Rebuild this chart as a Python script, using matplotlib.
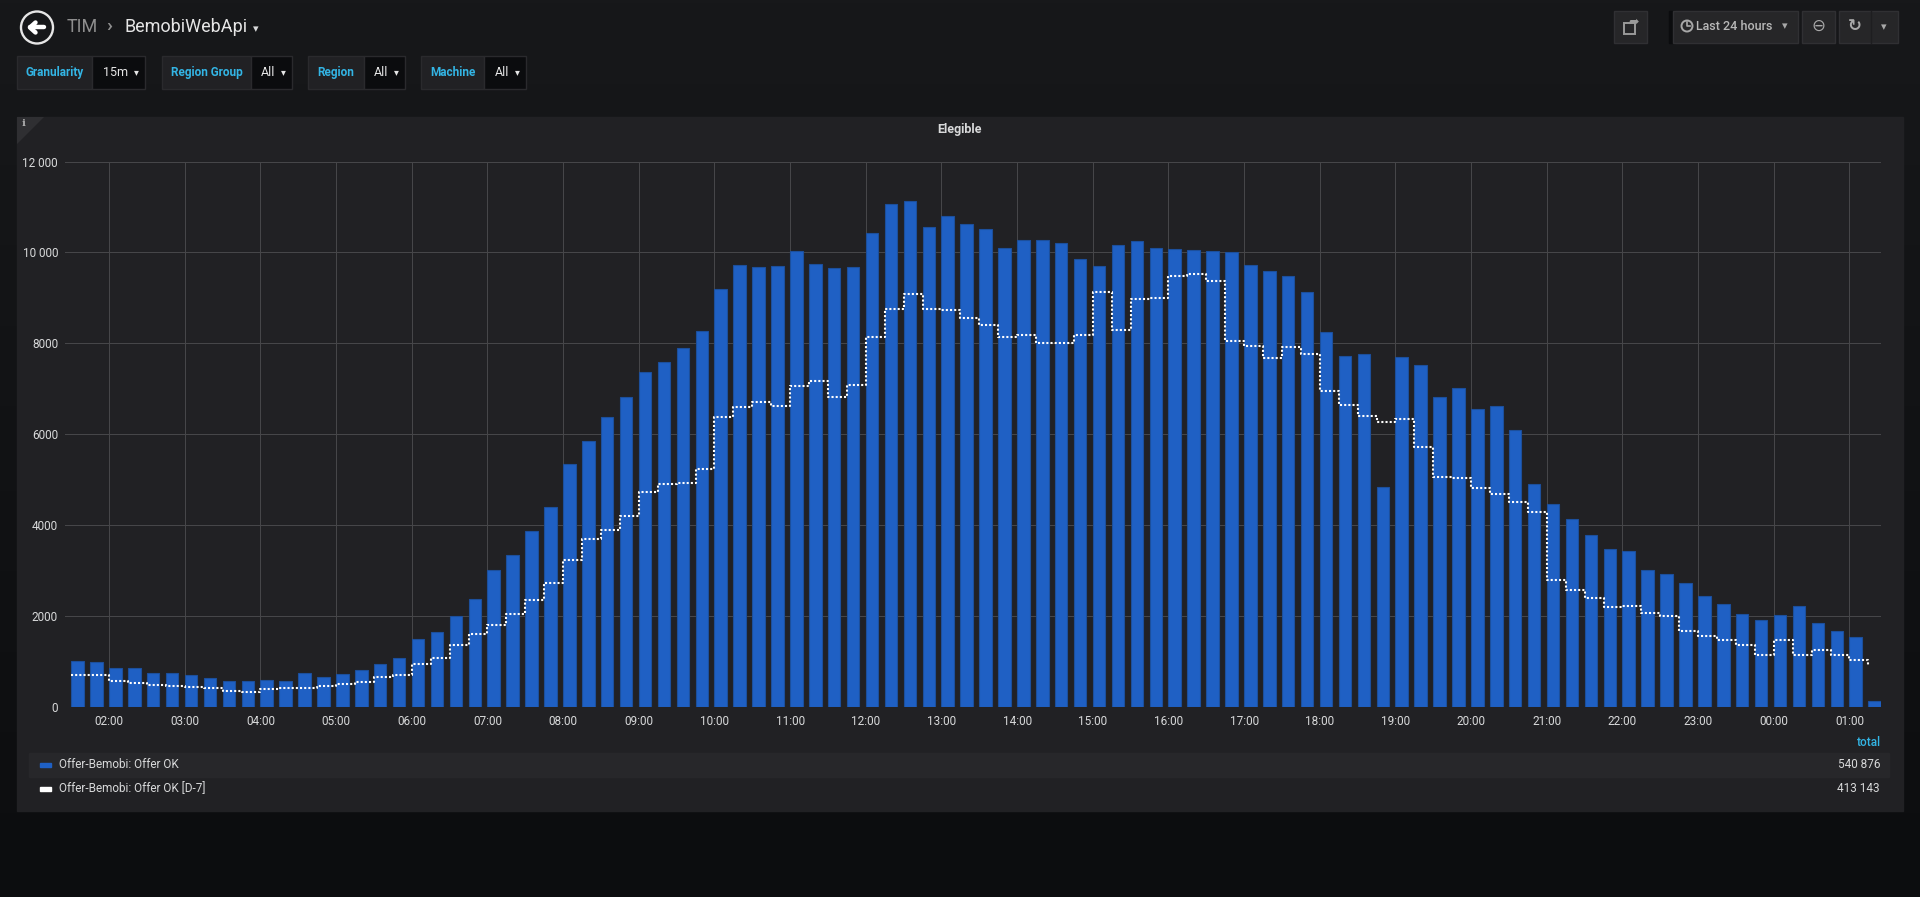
import matplotlib
matplotlib.use('Agg')
import matplotlib.pyplot as plt
import matplotlib.dates as mdates
from matplotlib.colors import LinearSegmentedColormap
from matplotlib.patches import Rectangle, Circle, Polygon
from matplotlib.ticker import FuncFormatter
import numpy as np
import pandas as pd

# 15 minute buckets, first one at 01:30, last one at 01:15 next day
offer_ok = [1000, 976, 848, 840, 744, 728, 688, 632, 552, 560, 592, 568,
            728, 648, 720, 800, 944, 1072, 1496, 1648, 2000, 2376, 3000, 3336,
            3872, 4400, 5344, 5848, 6384, 6816, 7360, 7584, 7896, 8264, 9192, 9712,
            9672, 9696, 10024, 9736, 9656, 9672, 10424, 11064, 11136, 10552, 10792, 10616,
            10512, 10096, 10264, 10264, 10200, 9848, 9696, 10168, 10248, 10096, 10072, 10048,
            10024, 10008, 9728, 9592, 9488, 9120, 8248, 7712, 7760, 4824, 7696, 7512,
            6816, 7024, 6544, 6624, 6080, 4896, 4456, 4128, 3776, 3472, 3424, 3008,
            2928, 2720, 2432, 2264, 2048, 1912, 2008, 2208, 1848, 1672, 1536, 128]

offer_ok_d7 = [688, 688, 560, 528, 480, 456, 440, 400, 352, 320, 376, 408,
               416, 456, 496, 536, 656, 704, 936, 1072, 1360, 1600, 1784, 2048,
               2352, 2728, 3216, 3680, 3880, 4200, 4720, 4904, 4928, 5232, 6368, 6592,
               6712, 6608, 7048, 7160, 6824, 7080, 8136, 8744, 9080, 8760, 8728, 8560,
               8392, 8136, 8192, 8008, 8008, 8176, 9136, 8296, 8976, 8992, 9480, 9528,
               9360, 8056, 7936, 7672, 7912, 7760, 6944, 6632, 6392, 6256, 6336, 5704,
               5064, 5040, 4808, 4680, 4512, 4280, 2792, 2576, 2392, 2192, 2216, 2056,
               1992, 1672, 1544, 1456, 1360, 1136, 1456, 1136, 1240, 1136, 1016, 912]

series_names = ["Offer-Bemobi: Offer OK", "Offer-Bemobi: Offer OK [D-7]"]
series_totals = ["540 876", "413 143"]

variables = [("Granularity", "15m"), ("Region Group", "All"), ("Region", "All"), ("Machine", "All")]

times = pd.date_range("2018-06-11 01:30", periods=len(offer_ok), freq="15min")

plt.rcParams['font.family'] = ['Roboto', 'DejaVu Sans']

W, H = 1920, 897
fig = plt.figure(figsize=(W / 100, H / 100), dpi=100)

# background layer in pixel coordinates
bg = fig.add_axes([0, 0, 1, 1], zorder=0)
bg.set_xlim(0, W)
bg.set_ylim(H, 0)
bg.axis('off')
grad = np.linspace(0, 1, 256).reshape(-1, 1)
cmap = LinearSegmentedColormap.from_list('page', ['#17181a', '#0c0d0f'])
bg.imshow(grad, extent=[0, W, H, 0], aspect='auto', cmap=cmap, zorder=0)

TEXT = '#d8d9da'
BLUE_TXT = '#33b5e5'


def box(x0, y0, x1, y1, fc, ec=None, z=1):
    bg.add_patch(Rectangle((x0, y0), x1 - x0, y1 - y0, facecolor=fc,
                           edgecolor=ec if ec else fc, lw=1, zorder=z))


# header: back button + breadcrumb
bg.add_patch(Circle((37, 27.5), 16, fill=False, ec='#e6e6e6', lw=1.7, zorder=2))
arrow_kw = dict(color='white', lw=3.2, solid_capstyle='round', solid_joinstyle='round', zorder=3)
bg.plot([30, 43.5], [27.5, 27.5], **arrow_kw)
bg.plot([35.5, 30, 35.5], [22.5, 27.5, 32.5], **arrow_kw)
bg.text(67, 27, "TIM", color='#8e8e8e', fontsize=13, va='center', ha='left', zorder=3)
bg.text(106, 26, "›", color='#8e8e8e', fontsize=14, fontweight='bold',
        va='center', ha='left', zorder=3)
bg.text(124, 27, "BemobiWebApi", color='#e6e6e6', fontsize=13, va='center', ha='left', zorder=3)
bg.text(253, 29, "▾", color=TEXT, fontsize=8, va='center', ha='left',
        family=['DejaVu Sans'], zorder=3)

# template variables row
var_boxes = [(17, 92, 145), (162, 251, 292), (308, 364, 405), (421, 484, 526)]
for (label, value), (x0, xm, x1) in zip(variables, var_boxes):
    box(x0, 56, xm, 89, '#212124', '#2a2a2d', z=2)
    box(xm, 56, x1, 89, '#0b0c0e', '#2a2a2d', z=2)
    bg.text((x0 + xm) / 2, 72.5, label, color=BLUE_TXT, fontsize=8.5, fontweight='bold',
            ha='center', va='center', zorder=3)
    bg.text((xm + x1) / 2 - 3, 72.5, value, color='#e6e6e6', fontsize=9,
            ha='center', va='center', zorder=3)
    bg.text(x1 - 9, 72, "▾", color='#e6e6e6', fontsize=7, ha='center', va='center',
            family=['DejaVu Sans'], zorder=3)

# top right buttons
box(1614, 11, 1647, 43, '#262628', '#303033', z=2)
bg.add_patch(Rectangle((1624, 23), 11, 11, fill=False, ec='#9a9a9a', lw=1.4, zorder=3))
bg.text(1634, 22, "➦", color='#9a9a9a', fontsize=9, ha='center', va='center',
        family=['DejaVu Sans'], zorder=3)
box(1669, 11, 1675, 43, '#0b0c0e', z=2)
box(1673, 11, 1798, 43, '#262628', '#303033', z=2)
bg.add_patch(Circle((1687, 26), 5.5, fill=False, ec='#a8a8a8', lw=1.4, zorder=3))
bg.plot([1687, 1687, 1690], [22.5, 26, 26], color='#a8a8a8', lw=1.2, zorder=3)
bg.text(1696, 27, "Last 24 hours", color='#b8b8b8', fontsize=9, fontweight='medium',
        ha='left', va='center', zorder=3)
bg.text(1785, 26, "▾", color='#a8a8a8', fontsize=8, ha='center', va='center',
        family=['DejaVu Sans'], zorder=3)
box(1802, 11, 1835, 43, '#262628', '#303033', z=2)
bg.text(1818, 26, "⊖", color='#a8a8a8', fontsize=12, ha='center', va='center',
        family=['DejaVu Sans'], zorder=3)
box(1839, 11, 1898, 43, '#262628', '#303033', z=2)
bg.plot([1871, 1871], [11, 43], color='#1e1e20', lw=1, zorder=3)
bg.text(1855, 26, "↻", color='#a8a8a8', fontsize=12, fontweight='bold', ha='center',
        va='center', family=['DejaVu Sans'], zorder=3)
bg.text(1884, 27, "▾", color='#a8a8a8', fontsize=8, ha='center', va='center',
        family=['DejaVu Sans'], zorder=3)

# panel
box(17, 117, 1903, 811, '#212124', z=1)
bg.add_patch(Polygon([(17, 117), (44, 117), (17, 144)], closed=True,
                     facecolor='#2f2f32', edgecolor='none', zorder=2))
bg.text(24, 124, "i", color='#b0b0b0', fontsize=7.5, fontweight='bold',
        family=['DejaVu Serif'], ha='center', va='center', zorder=3)
bg.text(960, 130, "Elegible", color=TEXT, fontsize=9, fontweight='bold',
        ha='center', va='center', zorder=3)

# legend table
bg.text(1881, 742, "total", color=BLUE_TXT, fontsize=8.5, fontweight='medium',
        ha='right', va='center', zorder=3)
box(29, 753, 1889, 777, '#27272a', z=2)
legend_colors = ['#1f60c4', '#ffffff']
for i, (name, total) in enumerate(zip(series_names, series_totals)):
    yc = 765 + i * 24
    bg.add_patch(Rectangle((40, yc - 2), 11, 4, color=legend_colors[i], zorder=3))
    bg.text(59, yc, name, color=TEXT, fontsize=8.5, ha='left', va='center', zorder=3)
    bg.text(1880, yc, total, color=TEXT, fontsize=8.5, ha='right', va='center', zorder=3)

# chart
x0, x1, ytop, ybot = 65, 1881, 161.6, 706.5
ax = fig.add_axes([x0 / W, 1 - ybot / H, (x1 - x0) / W, (ybot - ytop) / H], zorder=1)
ax.set_facecolor('#212124')

bar_w = 0.66 * 15 / 1440
ax.bar(times, offer_ok, width=bar_w, align='edge', color='#1f60c4',
       edgecolor='#1c4f9c', linewidth=0.8, zorder=2)
ax.step(times, offer_ok_d7, where='post', color='white', lw=1.5,
        linestyle=(0, (1, 1)), zorder=3)

ax.set_xlim(pd.Timestamp("2018-06-11 01:25"), pd.Timestamp("2018-06-12 01:25"))
ax.set_ylim(0, 12000)
ax.set_yticks(range(0, 12001, 2000))
ax.yaxis.set_major_formatter(FuncFormatter(
    lambda v, p: f"{int(v):,}".replace(",", " ") if v >= 10000 else str(int(v))))
ax.xaxis.set_major_locator(mdates.HourLocator(interval=1))
ax.xaxis.set_major_formatter(mdates.DateFormatter('%H:%M'))

ax.set_axisbelow(True)
ax.grid(True, color='#464649', lw=0.75)
for s in ax.spines.values():
    s.set_visible(False)
ax.tick_params(axis='both', length=0, colors=TEXT, labelsize=8.5)
ax.tick_params(axis='x', pad=6)
ax.tick_params(axis='y', pad=5)

fig.savefig('out.png', dpi=100, facecolor='#161719')
